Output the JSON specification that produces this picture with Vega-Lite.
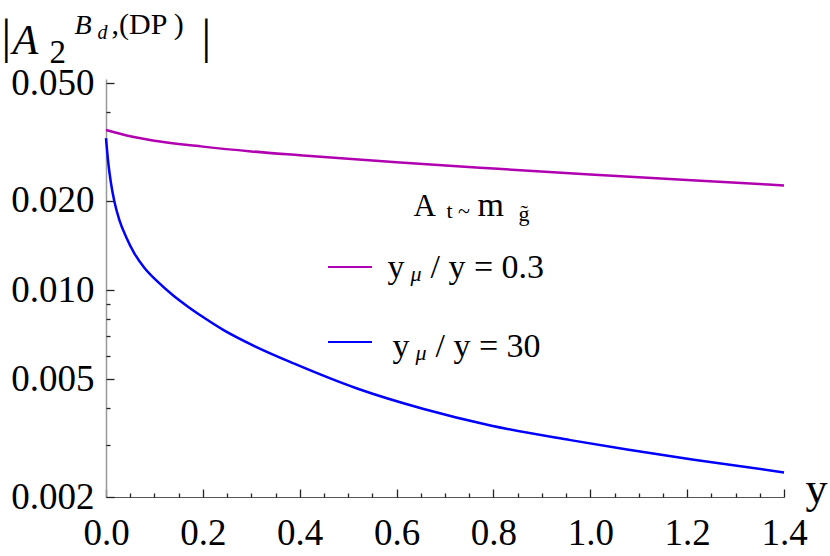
{
  "$schema": "https://vega.github.io/schema/vega-lite/v6.json",
  "width": 678,
  "height": 418,
  "autosize": {"type": "none"},
  "padding": {"left": 106, "top": 79, "right": 46, "bottom": 59},
  "background": "white",
  "config": {
    "view": {"stroke": null},
    "font": "Liberation Serif",
    "legend": {"labelFont": "Liberation Serif", "titleFont": "Liberation Serif"},
    "axis": {
      "grid": false,
      "labelFont": "Liberation Serif",
      "labelColor": "black",
      "titleFont": "Liberation Serif",
      "titleColor": "black",
      "titleFontWeight": "normal",
      "titleAngle": 0,
      "titleAlign": "left",
      "titleBaseline": "alphabetic",
      "titleLimit": 2000,
      "titlePadding": 0
    }
  },
  "data": {
    "values": [
      {"x": 0, "v": 0.0347, "s": "yμ/y=0.3"},
      {"x": 0.05, "v": 0.03306, "s": "yμ/y=0.3"},
      {"x": 0.1, "v": 0.03193, "s": "yμ/y=0.3"},
      {"x": 0.2, "v": 0.0305, "s": "yμ/y=0.3"},
      {"x": 0.3, "v": 0.02939, "s": "yμ/y=0.3"},
      {"x": 0.4, "v": 0.02853, "s": "yμ/y=0.3"},
      {"x": 0.6, "v": 0.027, "s": "yμ/y=0.3"},
      {"x": 0.8, "v": 0.02572, "s": "yμ/y=0.3"},
      {"x": 1.0, "v": 0.02456, "s": "yμ/y=0.3"},
      {"x": 1.2, "v": 0.02351, "s": "yμ/y=0.3"},
      {"x": 1.4, "v": 0.02256, "s": "yμ/y=0.3"},
      {"x": 0, "v": 0.0326, "s": "yμ/y=30"},
      {"x": 0.0048, "v": 0.0268, "s": "yμ/y=30"},
      {"x": 0.0103, "v": 0.02295, "s": "yμ/y=30"},
      {"x": 0.0171, "v": 0.02, "s": "yμ/y=30"},
      {"x": 0.0275, "v": 0.01725, "s": "yμ/y=30"},
      {"x": 0.0413, "v": 0.01514, "s": "yμ/y=30"},
      {"x": 0.0585, "v": 0.01331, "s": "yμ/y=30"},
      {"x": 0.0791, "v": 0.01189, "s": "yμ/y=30"},
      {"x": 0.1066, "v": 0.01067, "s": "yμ/y=30"},
      {"x": 0.1376, "v": 0.00962, "s": "yμ/y=30"},
      {"x": 0.1686, "v": 0.0088, "s": "yμ/y=30"},
      {"x": 0.1995, "v": 0.00812, "s": "yμ/y=30"},
      {"x": 0.2429, "v": 0.00732, "s": "yμ/y=30"},
      {"x": 0.3119, "v": 0.006404, "s": "yμ/y=30"},
      {"x": 0.3875, "v": 0.005651, "s": "yμ/y=30"},
      {"x": 0.5185, "v": 0.00465, "s": "yμ/y=30"},
      {"x": 0.656, "v": 0.003965, "s": "yμ/y=30"},
      {"x": 0.7938, "v": 0.003488, "s": "yμ/y=30"},
      {"x": 0.959, "v": 0.003112, "s": "yμ/y=30"},
      {"x": 1.076, "v": 0.002893, "s": "yμ/y=30"},
      {"x": 1.2138, "v": 0.002673, "s": "yμ/y=30"},
      {"x": 1.4, "v": 0.002421, "s": "yμ/y=30"}
    ]
  },
  "resolve": {"axis": {"x": "independent", "y": "independent"}},
  "layer": [
    {
      "mark": {"type": "line", "strokeWidth": 2.5, "interpolate": "monotone"},
      "encoding": {
        "x": {
          "field": "x", "type": "quantitative",
          "scale": {"domain": [0, 1.4], "nice": false, "zero": false},
          "axis": {
            "orient": "bottom",
            "values": [0, 0.2, 0.4, 0.6, 0.8, 1.0, 1.2, 1.4],
            "format": ".1f",
            "ticks": false,
            "labelPadding": 18,
            "labelFontSize": 37,
            "labelFlush": false,
            "labelOverlap": false,
            "domainColor": "#555",
            "title": "y",
            "titleFontSize": 44,
            "titleX": 699,
            "titleY": 5
          }
        },
        "y": {
          "field": "v", "type": "quantitative",
          "scale": {"type": "log", "domain": [0.002, 0.0516], "nice": false},
          "axis": {
            "orient": "left",
            "values": [0.002, 0.005, 0.01, 0.02, 0.05],
            "format": ".3f",
            "ticks": false,
            "labelPadding": 12,
            "labelFontSize": 37,
            "labelOverlap": false,
            "domainColor": "#999",
            "domainWidth": 1.5,
            "title": "|",
            "titleFontSize": 48,
            "titleX": -105,
            "titleY": -27
          }
        },
        "color": {
          "field": "s", "type": "nominal",
          "scale": {"domain": ["yμ/y=0.3", "yμ/y=30"], "range": ["#b000b0", "#0000ff"]},
          "legend": {
            "orient": "none",
            "legendX": 221,
            "legendY": 165,
            "title": null,
            "symbolType": "stroke",
            "symbolSize": 1936,
            "symbolStrokeWidth": 2,
            "labelExpr": "''",
            "labelFontSize": 34,
            "labelOffset": 0,
            "rowPadding": 35
          }
        }
      }
    },
    {
      "mark": {"type": "line", "strokeOpacity": 0},
      "encoding": {
        "x": {
          "field": "x", "type": "quantitative",
          "axis": {
            "orient": "bottom", "offset": -8,
            "values": [0, 0.2, 0.4, 0.6, 0.8, 1.0, 1.2, 1.4],
            "labels": false, "domain": false, "ticks": true,
            "tickColor": "#222", "tickWidth": 1.3, "tickSize": 8,
            "title": "2", "titleFontSize": 33,
            "titleX": -57, "titleY": -427
          }
        },
        "y": {
          "field": "v", "type": "quantitative",
          "axis": {
            "orient": "left", "offset": -8,
            "values": [0.002, 0.005, 0.01, 0.02, 0.05],
            "labels": false, "domain": false, "ticks": true,
            "tickColor": "#222", "tickWidth": 1.3, "tickSize": 8,
            "title": "A", "titleFontSize": 42, "titleFontStyle": "italic",
            "titleX": -102, "titleY": -26
          }
        },
        "detail": {"field": "s"}
      }
    },
    {
      "mark": {"type": "line", "strokeOpacity": 0},
      "encoding": {
        "x": {
          "field": "x", "type": "quantitative",
          "axis": {
            "orient": "bottom", "offset": -4,
            "values": [0.05, 0.1, 0.15, 0.25, 0.3, 0.35, 0.45, 0.5, 0.55, 0.65, 0.7, 0.75, 0.85, 0.9, 0.95, 1.05, 1.1, 1.15, 1.25, 1.3, 1.35],
            "labels": false, "domain": false, "ticks": true,
            "tickColor": "#222", "tickWidth": 1.3, "tickSize": 4,
            "title": "d", "titleFontSize": 20, "titleFontStyle": "italic",
            "titleX": -9, "titleY": -455
          }
        },
        "y": {
          "field": "v", "type": "quantitative",
          "axis": {
            "orient": "left", "offset": -4,
            "values": [0.003, 0.004, 0.006, 0.007, 0.008, 0.009, 0.04],
            "labels": false, "domain": false, "ticks": true,
            "tickColor": "#222", "tickWidth": 1.3, "tickSize": 4,
            "title": "B", "titleFontSize": 28, "titleFontStyle": "italic",
            "titleX": -36, "titleY": -46
          }
        },
        "detail": {"field": "s"}
      }
    },
    {
      "mark": {"type": "line", "strokeOpacity": 0},
      "encoding": {
        "x": {
          "field": "x", "type": "quantitative",
          "axis": {
            "orient": "bottom", "labels": false, "ticks": false, "domain": false,
            "title": "|", "titleFontSize": 48,
            "titleX": 95, "titleY": -445
          }
        },
        "y": {
          "field": "v", "type": "quantitative",
          "axis": {
            "orient": "left", "labels": false, "ticks": false, "domain": false,
            "title": ",(DP )", "titleFontSize": 30,
            "titleX": 5, "titleY": -46
          }
        },
        "detail": {"field": "s"}
      }
    },
    {
      "mark": {"type": "line", "strokeOpacity": 0},
      "encoding": {
        "x": {
          "field": "x", "type": "quantitative",
          "axis": {
            "orient": "bottom", "labels": false, "ticks": false, "domain": false,
            "title": "t ~", "titleFontSize": 22,
            "titleX": 340, "titleY": -280
          }
        },
        "y": {
          "field": "v", "type": "quantitative",
          "axis": {
            "orient": "left", "labels": false, "ticks": false, "domain": false,
            "title": "A", "titleFontSize": 31,
            "titleX": 307, "titleY": 136
          }
        },
        "detail": {"field": "s"}
      }
    },
    {
      "mark": {"type": "line", "strokeOpacity": 0},
      "encoding": {
        "x": {
          "field": "x", "type": "quantitative",
          "axis": {
            "orient": "bottom", "labels": false, "ticks": false, "domain": false,
            "title": "g̃", "titleFontSize": 22,
            "titleX": 412, "titleY": -277
          }
        },
        "y": {
          "field": "v", "type": "quantitative",
          "axis": {
            "orient": "left", "labels": false, "ticks": false, "domain": false,
            "title": "m", "titleFontSize": 34,
            "titleX": 371, "titleY": 136
          }
        },
        "detail": {"field": "s"}
      }
    },
    {
      "mark": {"type": "line", "strokeOpacity": 0},
      "encoding": {
        "x": {
          "field": "x", "type": "quantitative",
          "axis": {
            "orient": "bottom", "labels": false, "ticks": false, "domain": false,
            "title": "μ", "titleFontSize": 22, "titleFontStyle": "italic",
            "titleX": 304, "titleY": -217
          }
        },
        "y": {
          "field": "v", "type": "quantitative",
          "axis": {
            "orient": "left", "labels": false, "ticks": false, "domain": false,
            "title": "y", "titleFontSize": 34,
            "titleX": 281, "titleY": 198
          }
        },
        "detail": {"field": "s"}
      }
    },
    {
      "mark": {"type": "line", "strokeOpacity": 0},
      "encoding": {
        "x": {
          "field": "x", "type": "quantitative",
          "axis": {
            "orient": "bottom", "labels": false, "ticks": false, "domain": false,
            "title": "y", "titleFontSize": 34,
            "titleX": 286, "titleY": -141
          }
        },
        "y": {
          "field": "v", "type": "quantitative",
          "axis": {
            "orient": "left", "labels": false, "ticks": false, "domain": false,
            "title": "/ y = 0.3", "titleFontSize": 34,
            "titleX": 324, "titleY": 198
          }
        },
        "detail": {"field": "s"}
      }
    },
    {
      "mark": {"type": "line", "strokeOpacity": 0},
      "encoding": {
        "x": {
          "field": "x", "type": "quantitative",
          "axis": {
            "orient": "bottom", "labels": false, "ticks": false, "domain": false,
            "title": "/ y = 30", "titleFontSize": 34,
            "titleX": 329, "titleY": -141
          }
        },
        "y": {
          "field": "v", "type": "quantitative",
          "axis": {
            "orient": "left", "labels": false, "ticks": false, "domain": false,
            "title": "μ", "titleFontSize": 22, "titleFontStyle": "italic",
            "titleX": 309, "titleY": 280
          }
        },
        "detail": {"field": "s"}
      }
    }
  ]
}
